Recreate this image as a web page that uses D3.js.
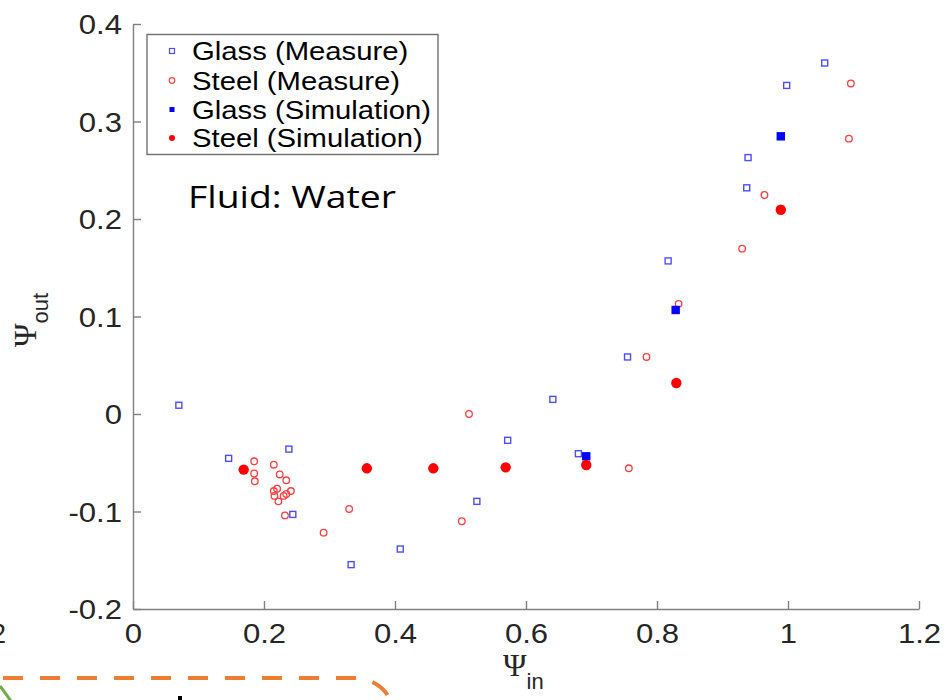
<!DOCTYPE html>
<html><head><meta charset="utf-8">
<script src="https://cdn.jsdelivr.net/npm/d3@7"></script>
<style>body{margin:0;background:#fff}svg{display:block}</style>
</head><body>
<svg id="c" width="945" height="700"></svg>
<script>
const xTicks = [0, 0.2, 0.4, 0.6, 0.8, 1, 1.2];
const xTickLabels = ["0", "0.2", "0.4", "0.6", "0.8", "1", "1.2"];
const yTicks = [-0.2, -0.1, 0, 0.1, 0.2, 0.3, 0.4];
const yTickLabels = ["-0.2", "-0.1", "0", "0.1", "0.2", "0.3", "0.4"];

const glassMeasX = [0.07, 0.146, 0.238, 0.244, 0.333, 0.408, 0.525, 0.572, 0.641, 0.680, 0.755, 0.817, 0.937, 0.939, 0.998, 1.056];
const glassMeasY = [0.009, -0.0455, -0.036, -0.103, -0.1545, -0.1385, -0.0896, -0.027, 0.015, -0.0407, 0.0585, 0.157, 0.232, 0.263, 0.337, 0.360];
const steelMeasX = [0.185, 0.185, 0.186, 0.215, 0.224, 0.234, 0.215, 0.220, 0.216, 0.222, 0.230, 0.234, 0.241, 0.232, 0.291, 0.330, 0.502, 0.513, 0.757, 0.784, 0.833, 0.930, 0.964, 1.093, 1.096];
const steelMeasY = [-0.0485, -0.061, -0.069, -0.052, -0.062, -0.068, -0.079, -0.0766, -0.084, -0.0896, -0.084, -0.082, -0.079, -0.104, -0.1217, -0.0974, -0.110, 0.0, -0.0557, 0.0585, 0.113, 0.1696, 0.2246, 0.2824, 0.339];
const glassSimX = [0.692, 0.8285, 0.989];
const glassSimY = [-0.0434, 0.1067, 0.2848];
const steelSimX = [0.169, 0.357, 0.4585, 0.569, 0.692, 0.8295, 0.989];
const steelSimY = [-0.057, -0.0557, -0.0557, -0.0547, -0.0523, 0.0318, 0.2095];
const legendLabels = ["Glass (Measure)", "Steel (Measure)", "Glass (Simulation)", "Steel (Simulation)"];

const svg = d3.select("#c");
const x = d3.scaleLinear().domain([0, 1.2]).range([133, 919]);
const y = d3.scaleLinear().domain([-0.2, 0.4]).range([609, 24]);

function stretch(sel, f) {
  sel.each(function () {
    const l = this.getComputedTextLength();
    this.setAttribute("textLength", l * f);
    this.setAttribute("lengthAdjust", "spacingAndGlyphs");
  });
}

const axisColor = "#808080";
const gx = svg.append("g").attr("transform", "translate(0,609)")
  .call(d3.axisBottom(x).tickValues(xTicks).tickFormat((d, i) => xTickLabels[i])
    .tickSizeInner(-8).tickSizeOuter(0).tickPadding(15));
const gy = svg.append("g").attr("transform", "translate(133,0)")
  .call(d3.axisLeft(y).tickValues(yTicks).tickFormat((d, i) => yTickLabels[i])
    .tickSizeInner(-8).tickSizeOuter(0).tickPadding(11));
[gx, gy].forEach(g => {
  g.select(".domain").attr("stroke", axisColor).attr("stroke-width", 1.4);
  g.selectAll(".tick line").attr("stroke", axisColor).attr("stroke-width", 1.4);
  g.selectAll("text").attr("font-family", "Liberation Sans, Arial, sans-serif")
    .attr("font-size", 27).attr("fill", "#262626");
});
gy.selectAll("text").attr("dy", "0.36em");
stretch(gx.selectAll("text"), 1.15);
stretch(gy.selectAll("text"), 1.15);

// axis titles
const xt = svg.append("text").attr("x", 503).attr("y", 676)
  .attr("font-family", "Liberation Serif, Times New Roman, serif").attr("font-size", 32).attr("fill", "#262626");
xt.append("tspan").text("Ψ");
xt.append("tspan").attr("dy", 13).attr("font-family", "Liberation Sans, Arial, sans-serif").attr("font-size", 22).text("in");
const yt = svg.append("text").attr("transform", "translate(36,347) rotate(-90)")
  .attr("font-family", "Liberation Serif, Times New Roman, serif").attr("font-size", 32).attr("fill", "#262626");
yt.append("tspan").text("Ψ");
yt.append("tspan").attr("dy", 12).attr("font-family", "Liberation Sans, Arial, sans-serif").attr("font-size", 22).text("out");

// data
const pts = (xs, ys) => xs.map((v, i) => [v, ys[i]]);
const plot = svg.append("g");
plot.selectAll(".gm").data(pts(glassMeasX, glassMeasY)).enter().append("rect")
  .attr("x", d => x(d[0]) - 3).attr("y", d => y(d[1]) - 3).attr("width", 6).attr("height", 6)
  .attr("fill", "none").attr("stroke", "#4d4dff").attr("stroke-width", 1.4);
plot.selectAll(".sm").data(pts(steelMeasX, steelMeasY)).enter().append("circle")
  .attr("cx", d => x(d[0])).attr("cy", d => y(d[1])).attr("r", 3.3)
  .attr("fill", "none").attr("stroke", "#ff3d3d").attr("stroke-width", 1.3);
plot.selectAll(".gs").data(pts(glassSimX, glassSimY)).enter().append("rect")
  .attr("x", d => x(d[0]) - 4.2).attr("y", d => y(d[1]) - 4.2).attr("width", 8.4).attr("height", 8.4)
  .attr("fill", "#0000ff");
plot.selectAll(".ss").data(pts(steelSimX, steelSimY)).enter().append("circle")
  .attr("cx", d => x(d[0])).attr("cy", d => y(d[1])).attr("r", 5.2)
  .attr("fill", "#ff0000");

// legend
const lg = svg.append("g");
lg.append("rect").attr("x", 147).attr("y", 34.5).attr("width", 291).attr("height", 120)
  .attr("fill", "#fff").attr("stroke", "#707070").attr("stroke-width", 1.4);
const rowY = [51, 80.5, 109.5, 138];
lg.append("rect").attr("x", 169.5).attr("y", rowY[0] - 2.5).attr("width", 5).attr("height", 5)
  .attr("fill", "none").attr("stroke", "#4d4dff").attr("stroke-width", 1.2);
lg.append("circle").attr("cx", 172).attr("cy", rowY[1]).attr("r", 2.8)
  .attr("fill", "none").attr("stroke", "#ff3d3d").attr("stroke-width", 1.2);
lg.append("rect").attr("x", 169.5).attr("y", rowY[2] - 2.5).attr("width", 5).attr("height", 5).attr("fill", "#0000ff");
lg.append("circle").attr("cx", 172).attr("cy", rowY[3]).attr("r", 3).attr("fill", "#ff0000");
const lt = lg.selectAll(".lt").data(legendLabels).enter().append("text")
  .attr("x", 192).attr("y", (d, i) => rowY[i] + 9)
  .attr("font-family", "Liberation Sans, Arial, sans-serif").attr("font-size", 25).attr("fill", "#000")
  .text(d => d);
stretch(lt, 1.17);

// annotation
const ann = svg.append("text").attr("x", 188).attr("y", 208)
  .attr("font-family", "Open Sans, Noto Sans, sans-serif").attr("font-size", 31).attr("fill", "#000")
  .text("Fluid: Water");
ann.attr("textLength", 208).attr("lengthAdjust", "spacingAndGlyphs");

// cropped fragments of neighbouring figure content
svg.append("text").attr("x", 6).attr("y", 643).attr("text-anchor", "end")
  .attr("font-family", "Liberation Sans, Arial, sans-serif").attr("font-size", 27).attr("fill", "#262626").text("1.2");
svg.append("path").attr("d", "M3,678 H355 A40,40 0 0 1 395,718")
  .attr("fill", "none").attr("stroke", "#ED7D31").attr("stroke-width", 4).attr("stroke-dasharray", "20 17");
svg.append("path").attr("d", "M0,686 L11,701").attr("stroke", "#70AD47").attr("stroke-width", 3).attr("fill", "none");
svg.append("rect").attr("x", 178).attr("y", 696).attr("width", 4).attr("height", 4).attr("fill", "#000");
</script>
</body></html>
